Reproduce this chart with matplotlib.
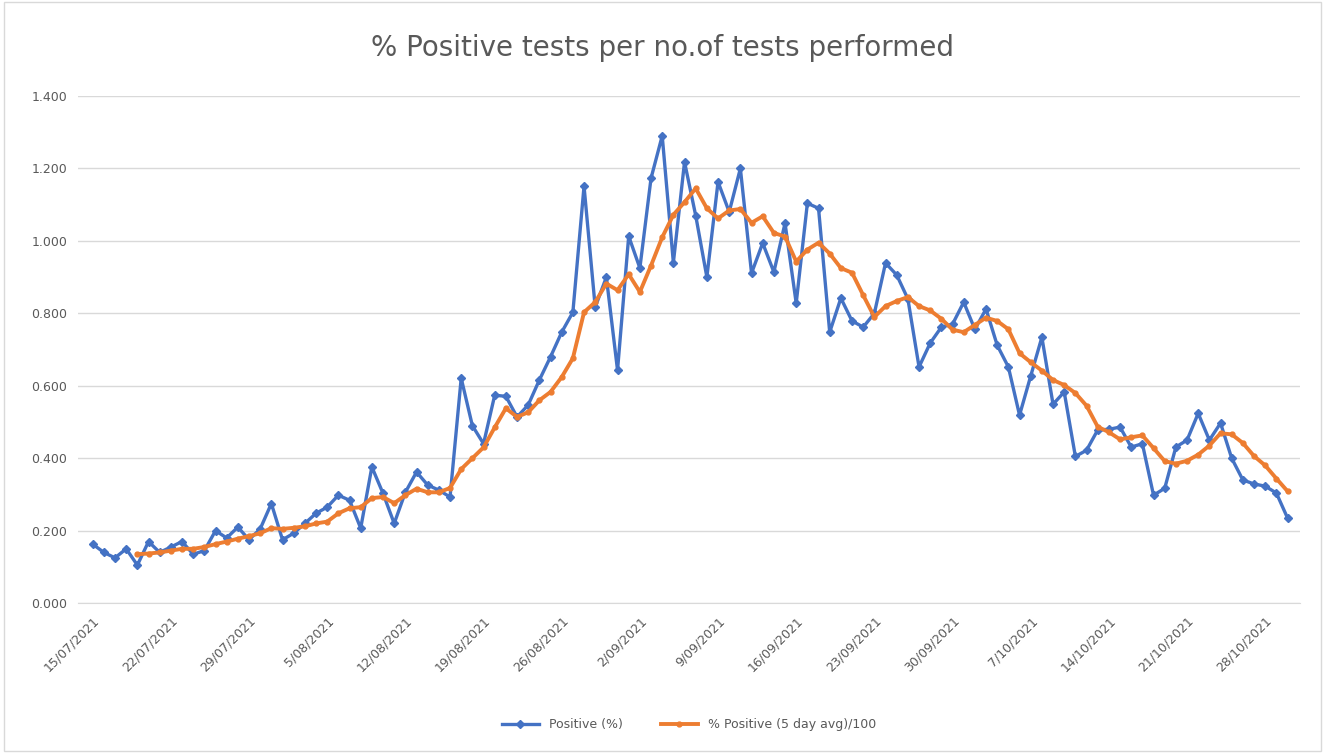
import pandas as pd
import matplotlib
matplotlib.use('Agg')
import matplotlib.pyplot as plt
from matplotlib.patches import Rectangle

# Dados (1 ponto por dia a partir de 15/07/2021)
data_inicio = '2021-07-15'

positivo = [
    0.163, 0.140, 0.125, 0.150, 0.105, 0.170, 0.140, 0.155, 0.170, 0.135,
    0.145, 0.200, 0.180, 0.210, 0.175, 0.205, 0.275, 0.175, 0.193, 0.220,
    0.248, 0.265, 0.298, 0.284, 0.207, 0.376, 0.303, 0.220, 0.306, 0.362,
    0.326, 0.312, 0.293, 0.621, 0.490, 0.440, 0.574, 0.571, 0.514, 0.547,
    0.616, 0.680, 0.748, 0.803, 1.151, 0.817, 0.900, 0.643, 1.013, 0.925,
    1.173, 1.290, 0.940, 1.218, 1.070, 0.900, 1.163, 1.080, 1.200, 0.911,
    0.994, 0.914, 1.049, 0.828, 1.104, 1.090, 0.748, 0.842, 0.779, 0.762,
    0.800, 0.939, 0.906, 0.840, 0.652, 0.718, 0.762, 0.770, 0.831, 0.756,
    0.812, 0.712, 0.652, 0.519, 0.627, 0.734, 0.549, 0.583, 0.405, 0.422,
    0.478, 0.480, 0.486, 0.431, 0.440, 0.298, 0.317, 0.431, 0.450, 0.524,
    0.450, 0.497, 0.400, 0.340, 0.329, 0.323, 0.304, 0.235,
]

media_5d = [
    None, None, None, None, 0.135, 0.137, 0.140, 0.145, 0.150, 0.150,
    0.155, 0.163, 0.170, 0.178, 0.185, 0.193, 0.207, 0.205, 0.208, 0.212,
    0.220, 0.225, 0.248, 0.262, 0.265, 0.290, 0.293, 0.276, 0.298, 0.316,
    0.306, 0.306, 0.318, 0.370, 0.400, 0.430, 0.485, 0.538, 0.514, 0.527,
    0.560, 0.583, 0.624, 0.676, 0.803, 0.831, 0.882, 0.864, 0.908, 0.859,
    0.932, 1.010, 1.072, 1.107, 1.145, 1.090, 1.062, 1.084, 1.088, 1.050,
    1.068, 1.022, 1.012, 0.943, 0.976, 0.995, 0.965, 0.925, 0.912, 0.850,
    0.790, 0.820, 0.834, 0.845, 0.820, 0.808, 0.785, 0.755, 0.748, 0.768,
    0.788, 0.779, 0.756, 0.690, 0.665, 0.642, 0.616, 0.602, 0.580, 0.545,
    0.487, 0.472, 0.452, 0.458, 0.463, 0.428, 0.392, 0.385, 0.393, 0.410,
    0.435, 0.469, 0.466, 0.442, 0.406, 0.380, 0.344, 0.309,
]

rotulos_x = [
    '15/07/2021', '22/07/2021', '29/07/2021', '5/08/2021', '12/08/2021',
    '19/08/2021', '26/08/2021', '2/09/2021', '9/09/2021', '16/09/2021',
    '23/09/2021', '30/09/2021', '7/10/2021', '14/10/2021', '21/10/2021',
    '28/10/2021',
]

rotulos_y = [0.0, 0.2, 0.4, 0.6, 0.8, 1.0, 1.2, 1.4]

AZUL = '#4472C4'
LARANJA = '#ED7D31'
CINZA = '#595959'


def main():
    datas = pd.date_range(data_inicio, periods=len(positivo), freq='D')
    s_pos = pd.Series(positivo, index=datas, dtype=float)
    s_med = pd.Series(media_5d, index=datas, dtype=float)

    fig = plt.figure(figsize=(13.25, 7.53), dpi=100)
    ax = fig.add_axes([0.059, 0.199, 0.922, 0.6735])

    # Borda da área do gráfico (estilo Excel)
    fig.patches.append(Rectangle((0.003, 0.003), 0.994, 0.994, transform=fig.transFigure,
                                 fill=False, edgecolor='#D9D9D9', linewidth=1))

    ax.plot(datas, s_pos.values, color=AZUL, linewidth=2.4, marker='D',
            markersize=4, label='Positive (%)', zorder=3)
    ax.plot(datas, s_med.values, color=LARANJA, linewidth=2.8, marker='o',
            markersize=3.5, label='% Positive (5 day avg)/100', zorder=4)

    ax.set_ylim(0, 1.4)
    ax.set_yticks(rotulos_y)
    ax.set_yticklabels([f'{v:.3f}' for v in rotulos_y])
    ax.set_xlim(datas[0] - pd.Timedelta(days=1.3), datas[-1] + pd.Timedelta(days=1.1))

    posicoes = pd.to_datetime(rotulos_x, format='%d/%m/%Y')
    ax.set_xticks(posicoes)
    ax.set_xticklabels(rotulos_x, rotation=45, ha='right', rotation_mode='anchor')

    ax.grid(axis='y', color='#D9D9D9', linewidth=1)
    ax.set_axisbelow(True)
    for lado in ['top', 'right', 'left']:
        ax.spines[lado].set_visible(False)
    ax.spines['bottom'].set_color('#D9D9D9')
    ax.tick_params(axis='both', length=0, labelsize=9, colors=CINZA, pad=8)

    fig.text(0.5, 0.936, '% Positive tests per no.of tests performed',
             ha='center', va='center', fontsize=20, color=CINZA)

    ax.legend(loc='center', bbox_to_anchor=(0.5, -0.24), ncol=2, frameon=False,
              fontsize=9, labelcolor=CINZA, handlelength=3, columnspacing=3)

    fig.savefig('out.png', dpi=100, facecolor='white')


if __name__ == "__main__":
    main()
